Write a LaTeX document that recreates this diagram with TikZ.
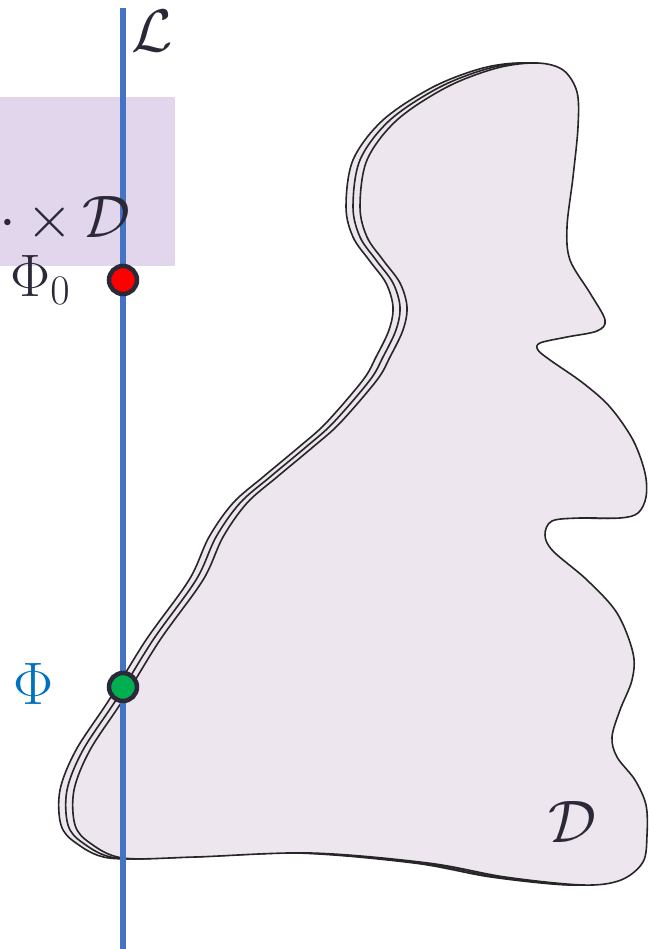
\RequirePackage{fix-cm}
\documentclass[tikz,border=0pt]{standalone}
\usepackage{xcolor}
\usepackage{tikz}
\usetikzlibrary{calc,positioning}

\definecolor{lineblue}{HTML}{4472C4}
\definecolor{phiblue}{HTML}{0070C0}
\definecolor{blobfill}{HTML}{EEE6EE}
\definecolor{boxfill}{HTML}{E2D6EC}
\definecolor{ink}{HTML}{2B2838}
\definecolor{dotred}{HTML}{FF0000}
\definecolor{dotgreen}{HTML}{00B050}

% outline of the region D
\newcommand{\blobpath}{plot[smooth cycle, tension=0.55] coordinates {
    (537,63) (563,70) (577,92) (578,127) (573,177) (567,227) (570,260)
    (590,293) (605,320) (597,331) (567,337) (540,343) (538,350) (550,360)
    (583,383) (610,407) (633,440) (645,473) (646,497) (638,513) (620,518)
    (580,518) (552,521) (545,535) (553,551) (587,580) (617,613) (633,653)
    (632,680) (620,710) (612,737) (617,757) (635,780) (646,805) (647,835)
    (643,862) (621,880) (583,885) (505,877) (428,863) (311,853) (195,857)
    (123,858) (90,843) (75,825) (74,790) (90,750) (123,700) (160,640)
    (203,580) (223,537) (247,503) (277,477) (313,447) (340,423) (377,380)
    (390,357) (403,330) (407,307) (400,283) (383,260) (367,237) (360,207)
    (367,160) (397,120) (447,87) (497,68)}}

\begin{document}
\begin{tikzpicture}[x=1pt, y=-1pt,
    blob/.style={fill=blobfill, draw=black!85, line width=1.6pt},
    dotmark/.style={circle, draw=ink, line width=4.5pt, minimum size=28pt, inner sep=0pt},
    lbl/.style={text=ink, font=\fontsize{60}{66}\selectfont, inner sep=0pt}
]
    \useasboundingbox (0,0) rectangle (648,949);

    % Region D, three stacked copies
    \filldraw[blob, xshift=-14pt] \blobpath;
    \filldraw[blob, xshift=-7pt] \blobpath;
    \filldraw[blob] \blobpath;

    % Shaded band
    \fill[boxfill] (0,97) rectangle (175,266);

    % The line L
    \coordinate (ltop) at (123,8);
    \coordinate (lbot) at (123,949);
    \draw[lineblue, line width=6pt] (ltop) -- (lbot);

    % Points on the line
    \node[dotmark, fill=dotred] (phi0) at (123,280) {};
    \node[dotmark, fill=dotgreen] (phi) at (123,687) {};

    % Labels
    \node[lbl, anchor=base west] (ell) at (131,52) {$\mathcal{L}$};
    \node[lbl, anchor=base east] (band) at (131,238) {${\cdot}\mskip3mu{\times}\mskip3mu\mathcal{D}$};
    \node[lbl, anchor=base west] (phi0lbl) at (10,296) {$\Phi_0$};
    \node[lbl, text=phiblue, anchor=base] (philbl) at (34,704) {$\Phi$};
    \node[lbl, anchor=base] (dlbl) at (572,842) {$\mathcal{D}$};
\end{tikzpicture}
\end{document}
